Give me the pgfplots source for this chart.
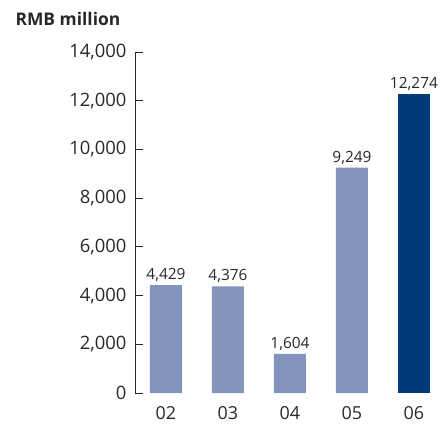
\documentclass[border=0pt]{standalone}
\usepackage{pgfplots}
\pgfplotsset{compat=1.18}
\usepackage{fontspec}
\setmainfont{Open Sans}
\definecolor{lightbar}{RGB}{131,149,188}
\definecolor{darkbar}{RGB}{0,58,120}
\definecolor{txt}{RGB}{40,40,40}
\begin{document}
\begin{tikzpicture}
\path[use as bounding box] (-135bp,-31bp) rectangle (305bp,393bp);
\begin{axis}[
  scale only axis,
  width=305bp, height=341bp,
  xmin=-0.5, xmax=4.42,
  ymin=0, ymax=14000,
  axis x line=none,
  axis y line*=left,
  y axis line style={line width=0.8pt, color=txt},
  ytick={0,2000,...,14000},
  ytick align=inside,
  major tick length=8bp,
  ytick style={line width=0.8pt, color=txt},
  yticklabel style={font=\fontsize{18.5}{20}\selectfont, text=txt, xshift=-5bp},
  /pgf/number format/assume math mode=true,
  /pgf/number format/1000 sep={,},
  scaled y ticks=false,
  ybar, bar width=32bp, bar shift=0pt,
  nodes near coords,
  every node near coord/.style={font=\fontsize{15.5}{17}\selectfont, text=txt, anchor=south, yshift=0bp},
  /pgf/number format/fixed,
  clip=false,
]
\addplot[fill=lightbar, draw=none] coordinates {(0,4429) (1,4376) (2,1604) (3,9249)};
\addplot[fill=darkbar, draw=none] coordinates {(4,12274)};
\foreach \i/\l in {0/02,1/03,2/04,3/05,4/06} {
  \edef\tmp{\noexpand\node[font=\noexpand\fontsize{18}{19}\noexpand\selectfont, text=txt, anchor=base, inner sep=0pt] at (axis cs:\i,0) [yshift=-26bp] {\l};}
  \tmp
}
\end{axis}
\node[anchor=base west, font=\bfseries\fontsize{17.5}{19}\selectfont, text=txt] at (-123bp,367bp) {RMB million};
\end{tikzpicture}
\end{document}
